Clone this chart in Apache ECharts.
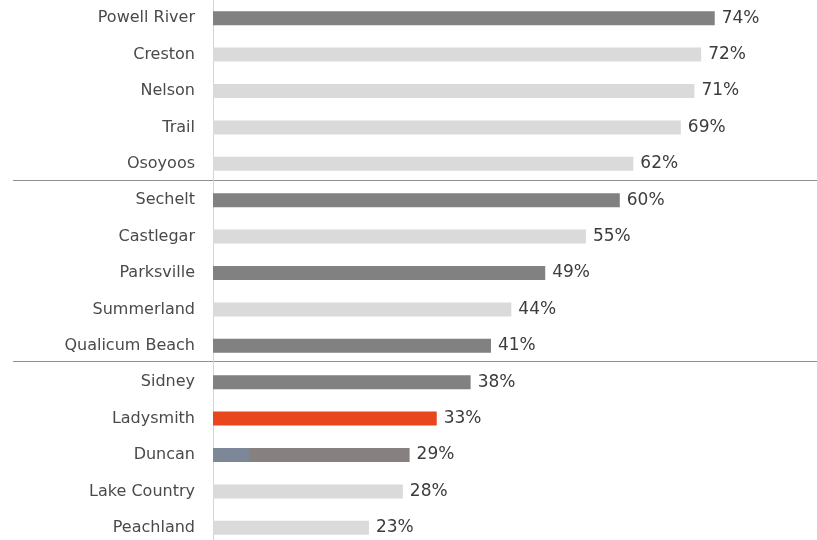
<!DOCTYPE html>
<html>
<head>
<meta charset="utf-8">
<script src="https://cdn.jsdelivr.net/npm/echarts@6/dist/echarts.min.js"></script>
<style>
  html, body { margin: 0; padding: 0; background: #ffffff; }
  #chart { width: 817px; height: 540px; }
</style>
</head>
<body>
<div id="chart"></div>
<script>
// Share of respondents by community (%)
const cities = [
  'Powell River', 'Creston', 'Nelson', 'Trail', 'Osoyoos',
  'Sechelt', 'Castlegar', 'Parksville', 'Summerland', 'Qualicum Beach',
  'Sidney', 'Ladysmith', 'Duncan', 'Lake Country', 'Peachland'
];
const shares = [74, 72, 71, 69, 62, 60, 55, 49, 44, 41, 38, 33, 29, 28, 23];
// Bar shading group for each community: 'dark', 'light', 'focus', 'duncan'
const shading = [
  'dark', 'light', 'light', 'light', 'light',
  'dark', 'light', 'dark', 'light', 'dark',
  'dark', 'focus', 'duncan', 'light', 'light'
];
// Communities that open a new tier (a separator is drawn above them)
const tierBreaks = ['Sechelt', 'Sidney'];

const palette = {
  dark: '#818181',
  light: '#dadada',
  focus: '#e8461c',
  duncan: {
    type: 'linear', x: 0, y: 0, x2: 1, y2: 0,
    colorStops: [
      { offset: 0, color: '#7c8798' },
      { offset: 0.18, color: '#7c8798' },
      { offset: 0.19, color: '#878080' },
      { offset: 1, color: '#878080' }
    ]
  }
};

const fontFamily = 'DejaVu Sans, sans-serif';

const chart = echarts.init(document.getElementById('chart'), null, { renderer: 'canvas' });

chart.setOption({
  animation: false,
  backgroundColor: '#ffffff',
  grid: [
    // value scale runs past the right edge of the canvas
    { left: 213, width: 678, top: 0, height: 546, outerBoundsMode: 'none', containLabel: false },
    { left: 13, width: 804, top: 0, height: 542, outerBoundsMode: 'none', containLabel: false }
  ],
  xAxis: [
    { type: 'value', gridIndex: 0, min: 0, max: 100, show: false },
    { type: 'value', gridIndex: 1, min: 0, max: 100, show: false }
  ],
  yAxis: [
    {
      type: 'category',
      gridIndex: 0,
      data: cities,
      inverse: true,
      axisLine: { show: true, lineStyle: { color: '#d4d4d4', width: 1 } },
      axisTick: { show: false },
      splitLine: { show: false },
      axisLabel: {
        margin: 18,
        color: '#4a4a4a',
        fontSize: 16,
        fontFamily: fontFamily
      }
    },
    {
      type: 'category',
      gridIndex: 1,
      data: cities,
      inverse: true,
      axisLine: { show: false },
      axisTick: { show: false },
      axisLabel: { show: false },
      splitLine: {
        show: true,
        interval: function (index, value) {
          return tierBreaks.indexOf(value) !== -1;
        },
        lineStyle: { color: '#8f8f8f', width: 1 }
      }
    }
  ],
  series: [
    {
      type: 'bar',
      xAxisIndex: 0,
      yAxisIndex: 0,
      barWidth: 14,
      data: shares.map((v, i) => ({
        value: v,
        itemStyle: { color: palette[shading[i]] }
      })),
      label: {
        show: true,
        position: 'right',
        distance: 7,
        color: '#3c3c3c',
        fontSize: 17,
        fontFamily: fontFamily,
        formatter: p => p.value + '%'
      }
    },
    {
      type: 'bar',
      xAxisIndex: 1,
      yAxisIndex: 1,
      data: [],
      silent: true
    }
  ]
});
</script>
</body>
</html>
